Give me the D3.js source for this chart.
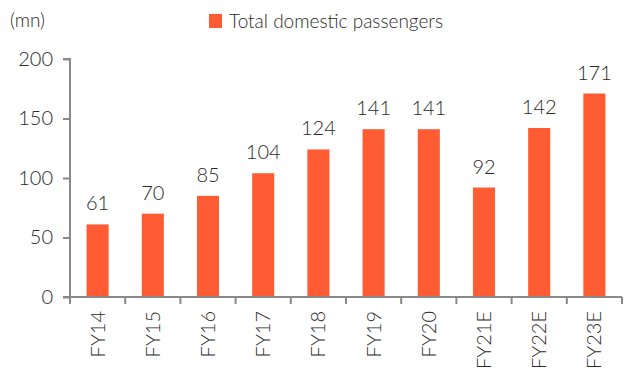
<!DOCTYPE html>
<html>
<head>
<meta charset="utf-8">
<script src="https://cdn.jsdelivr.net/npm/d3@7"></script>
<style>
  body { margin: 0; background: #fff; }
  svg text { font-family: Lato, "Open Sans", sans-serif; font-weight: 300; fill: #2a2a2a; }
</style>
</head>
<body>
<div id="chart"></div>
<script>
// data
const categories = ['FY14', 'FY15', 'FY16', 'FY17', 'FY18', 'FY19', 'FY20', 'FY21E', 'FY22E', 'FY23E'];
const passengers = [61, 70, 85, 104, 124, 141, 141, 92, 142, 171];
const yTicks = [0, 50, 100, 150, 200];

const width = 625, height = 376;
const margin = { top: 59, right: 3, bottom: 79, left: 70 };
const barColor = '#FF5C33';
const axisColor = '#8a8a8a';

const svg = d3.select('#chart')
  .append('svg')
  .attr('width', width)
  .attr('height', height);

const x = d3.scaleBand()
  .domain(categories)
  .range([margin.left, width - margin.right])
  .paddingInner(0.6)
  .paddingOuter(0.3);

const y = d3.scaleLinear()
  .domain([0, 200])
  .range([height - margin.bottom, margin.top]);

// y axis
const yAxis = svg.append('g')
  .attr('transform', `translate(${margin.left},0)`)
  .call(d3.axisLeft(y).tickValues(yTicks).tickSize(7).tickPadding(10));
yAxis.selectAll('line, path').attr('stroke', axisColor).attr('stroke-width', 2);
yAxis.select('.domain').attr('d', `M-7,${y(200)}H0V${y(0)}`);
yAxis.selectAll('text').attr('font-size', 20).style('fill', '#2a2a2a');

// bars
svg.selectAll('.bar')
  .data(categories)
  .enter()
  .append('rect')
  .attr('class', 'bar')
  .attr('x', d => x(d))
  .attr('width', x.bandwidth())
  .attr('y', (d, i) => y(passengers[i]))
  .attr('height', (d, i) => y(0) - y(passengers[i]))
  .attr('fill', barColor);

// value labels
svg.selectAll('.val')
  .data(categories)
  .enter()
  .append('text')
  .attr('class', 'val')
  .attr('x', d => x(d) + x.bandwidth() / 2)
  .attr('y', (d, i) => y(passengers[i]) - 14)
  .attr('text-anchor', 'middle')
  .attr('font-size', 20)
  .text((d, i) => passengers[i]);

// x axis: ticks between categories
const step = x.step();
const xAxis = svg.append('g').attr('transform', `translate(0,${y(0)})`);
xAxis.append('line')
  .attr('x1', margin.left - 7).attr('x2', width - margin.right)
  .attr('stroke', axisColor).attr('stroke-width', 2);
xAxis.selectAll('.tk')
  .data(d3.range(categories.length + 1))
  .enter()
  .append('line')
  .attr('x1', i => margin.left + i * step)
  .attr('x2', i => margin.left + i * step)
  .attr('y1', 0).attr('y2', 7)
  .attr('stroke', axisColor).attr('stroke-width', 2);
xAxis.selectAll('.lbl')
  .data(categories)
  .enter()
  .append('text')
  .attr('transform', d => `translate(${x(d) + x.bandwidth() / 2 + 7},14) rotate(-90)`)
  .attr('text-anchor', 'end')
  .attr('font-size', 20)
  .text(d => d);

// unit label
svg.append('text')
  .attr('x', 10).attr('y', 27)
  .attr('font-size', 19)
  .text('(mn)');

// legend
svg.append('rect')
  .attr('x', 209).attr('y', 14)
  .attr('width', 13).attr('height', 14)
  .attr('fill', barColor);
svg.append('text')
  .attr('x', 229).attr('y', 28)
  .attr('font-size', 19)
  .text('Total domestic passengers');
</script>
</body>
</html>
